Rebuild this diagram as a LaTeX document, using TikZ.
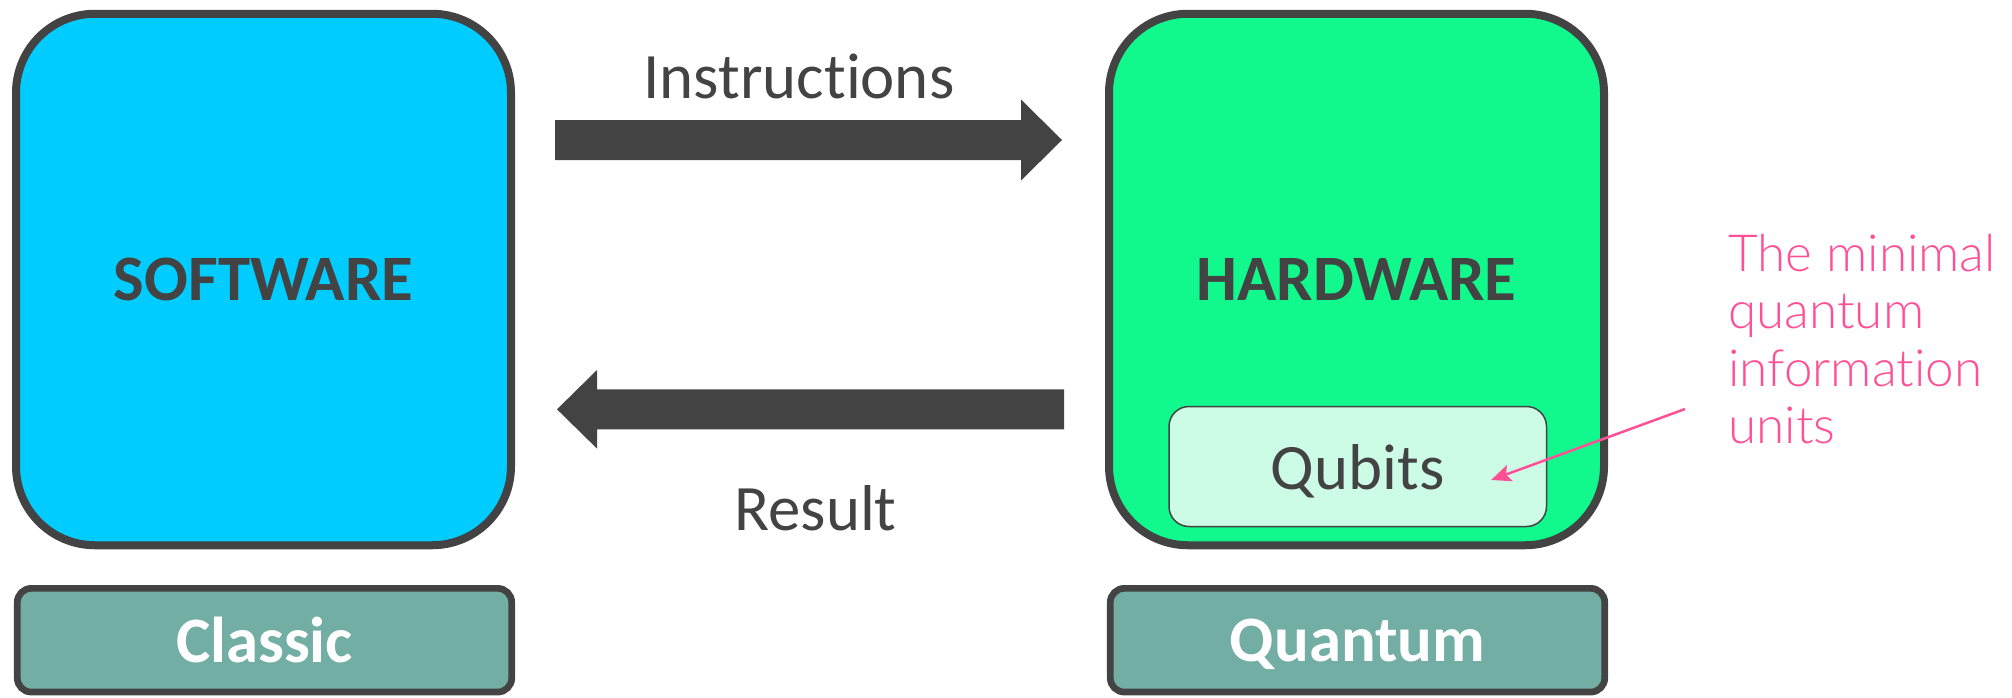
\documentclass[tikz,border=0pt]{standalone}
\usepackage{fontspec}
\setmainfont{Carlito}[Ligatures={NoCommon,NoContextual,NoRequired,NoRare}, Contextuals=NoAlternate]
\newfontfamily\pinkfont{Lato Light}[Ligatures={NoCommon,NoContextual,NoRequired,NoRare}, Contextuals=NoAlternate]
\usetikzlibrary{arrows.meta}
\definecolor{darkc}{RGB}{67,67,67}
\definecolor{cyanc}{RGB}{0,204,255}
\definecolor{greenc}{RGB}{17,249,140}
\definecolor{mintc}{RGB}{204,252,230}
\definecolor{tealc}{RGB}{114,174,164}
\definecolor{pinkc}{RGB}{255,80,150}
\newcommand{\nolig}{\kern0pt\relax}
\tikzset{
  bigbox/.style={draw=darkc, line width=4pt, rounded corners=39.5pt,
    minimum width=247.5pt, minimum height=265.75pt, inner sep=0pt,
    font=\fontsize{32.4}{38}\selectfont\bfseries, text=darkc},
  tagbox/.style={draw=darkc, line width=3.35pt, rounded corners=7pt, fill=tealc,
    minimum width=247.2pt, minimum height=51.85pt, inner sep=0pt, text depth=0pt,
    font=\fontsize{32.4}{38}\selectfont\bfseries, text=white},
  qubox/.style={draw=darkc, line width=0.75pt, rounded corners=10pt, fill=mintc,
    minimum width=188.75pt, minimum height=60pt, inner sep=0pt, text depth=0pt,
    font=\fontsize{32.4}{38}\selectfont, text=darkc},
  lbl/.style={font=\fontsize{32.4}{38}\selectfont, text=darkc, anchor=base, inner sep=0pt},
  blockarrow/.style={fill=darkc},
  notetext/.style={anchor=north west, inner sep=0pt, align=left,
    font=\pinkfont\fontsize{25.6}{28.65}\selectfont, text=pinkc},
  pointer/.style={draw=pinkc, line width=1.25pt, -{Stealth[length=10pt,width=8.5pt,inset=2pt]}}
}
\begin{document}
\begin{tikzpicture}[x=0.5pt,y=-0.5pt]
\useasboundingbox (0,0) rectangle (2012,697);
% main boxes
\node[bigbox, fill=cyanc] (sw) at (263.5,279.5) {SOFTWARE};
\node[bigbox, fill=greenc] (hw) at (1356.5,279.5) {HARDWARE};
% tags
\node[tagbox] (classic) at (264.5,640.2) {Classic};
\node[tagbox] (quantum) at (1357.5,640.2) {Quantum};
% qubits
\node[qubox] (qubits) at (1357.75,466.5) {Qubits};
% block arrows
\fill[blockarrow] (555,120) -- (1021,120) -- (1021,99.5) -- (1062,140) -- (1021,180.5) -- (1021,160) -- (555,160) -- cycle;
\fill[blockarrow] (1064,389.3) -- (597,389.3) -- (597,370) -- (557,409.3) -- (597,448.6) -- (597,429.3) -- (1064,429.3) -- cycle;
\node[lbl] (instr) at (799,98.5) {Instruct\nolig ions};
\node[lbl] (result) at (815.5,530.7) {Result};
% note
\node[notetext] (note) at (1728,234) {The minimal\\quantum\\informat\nolig ion\\units};
\coordinate (noteptr) at (1685,409);
\coordinate (qtip) at (1491,480);
\draw[pointer] (noteptr) -- (qtip);
\end{tikzpicture}
\end{document}
